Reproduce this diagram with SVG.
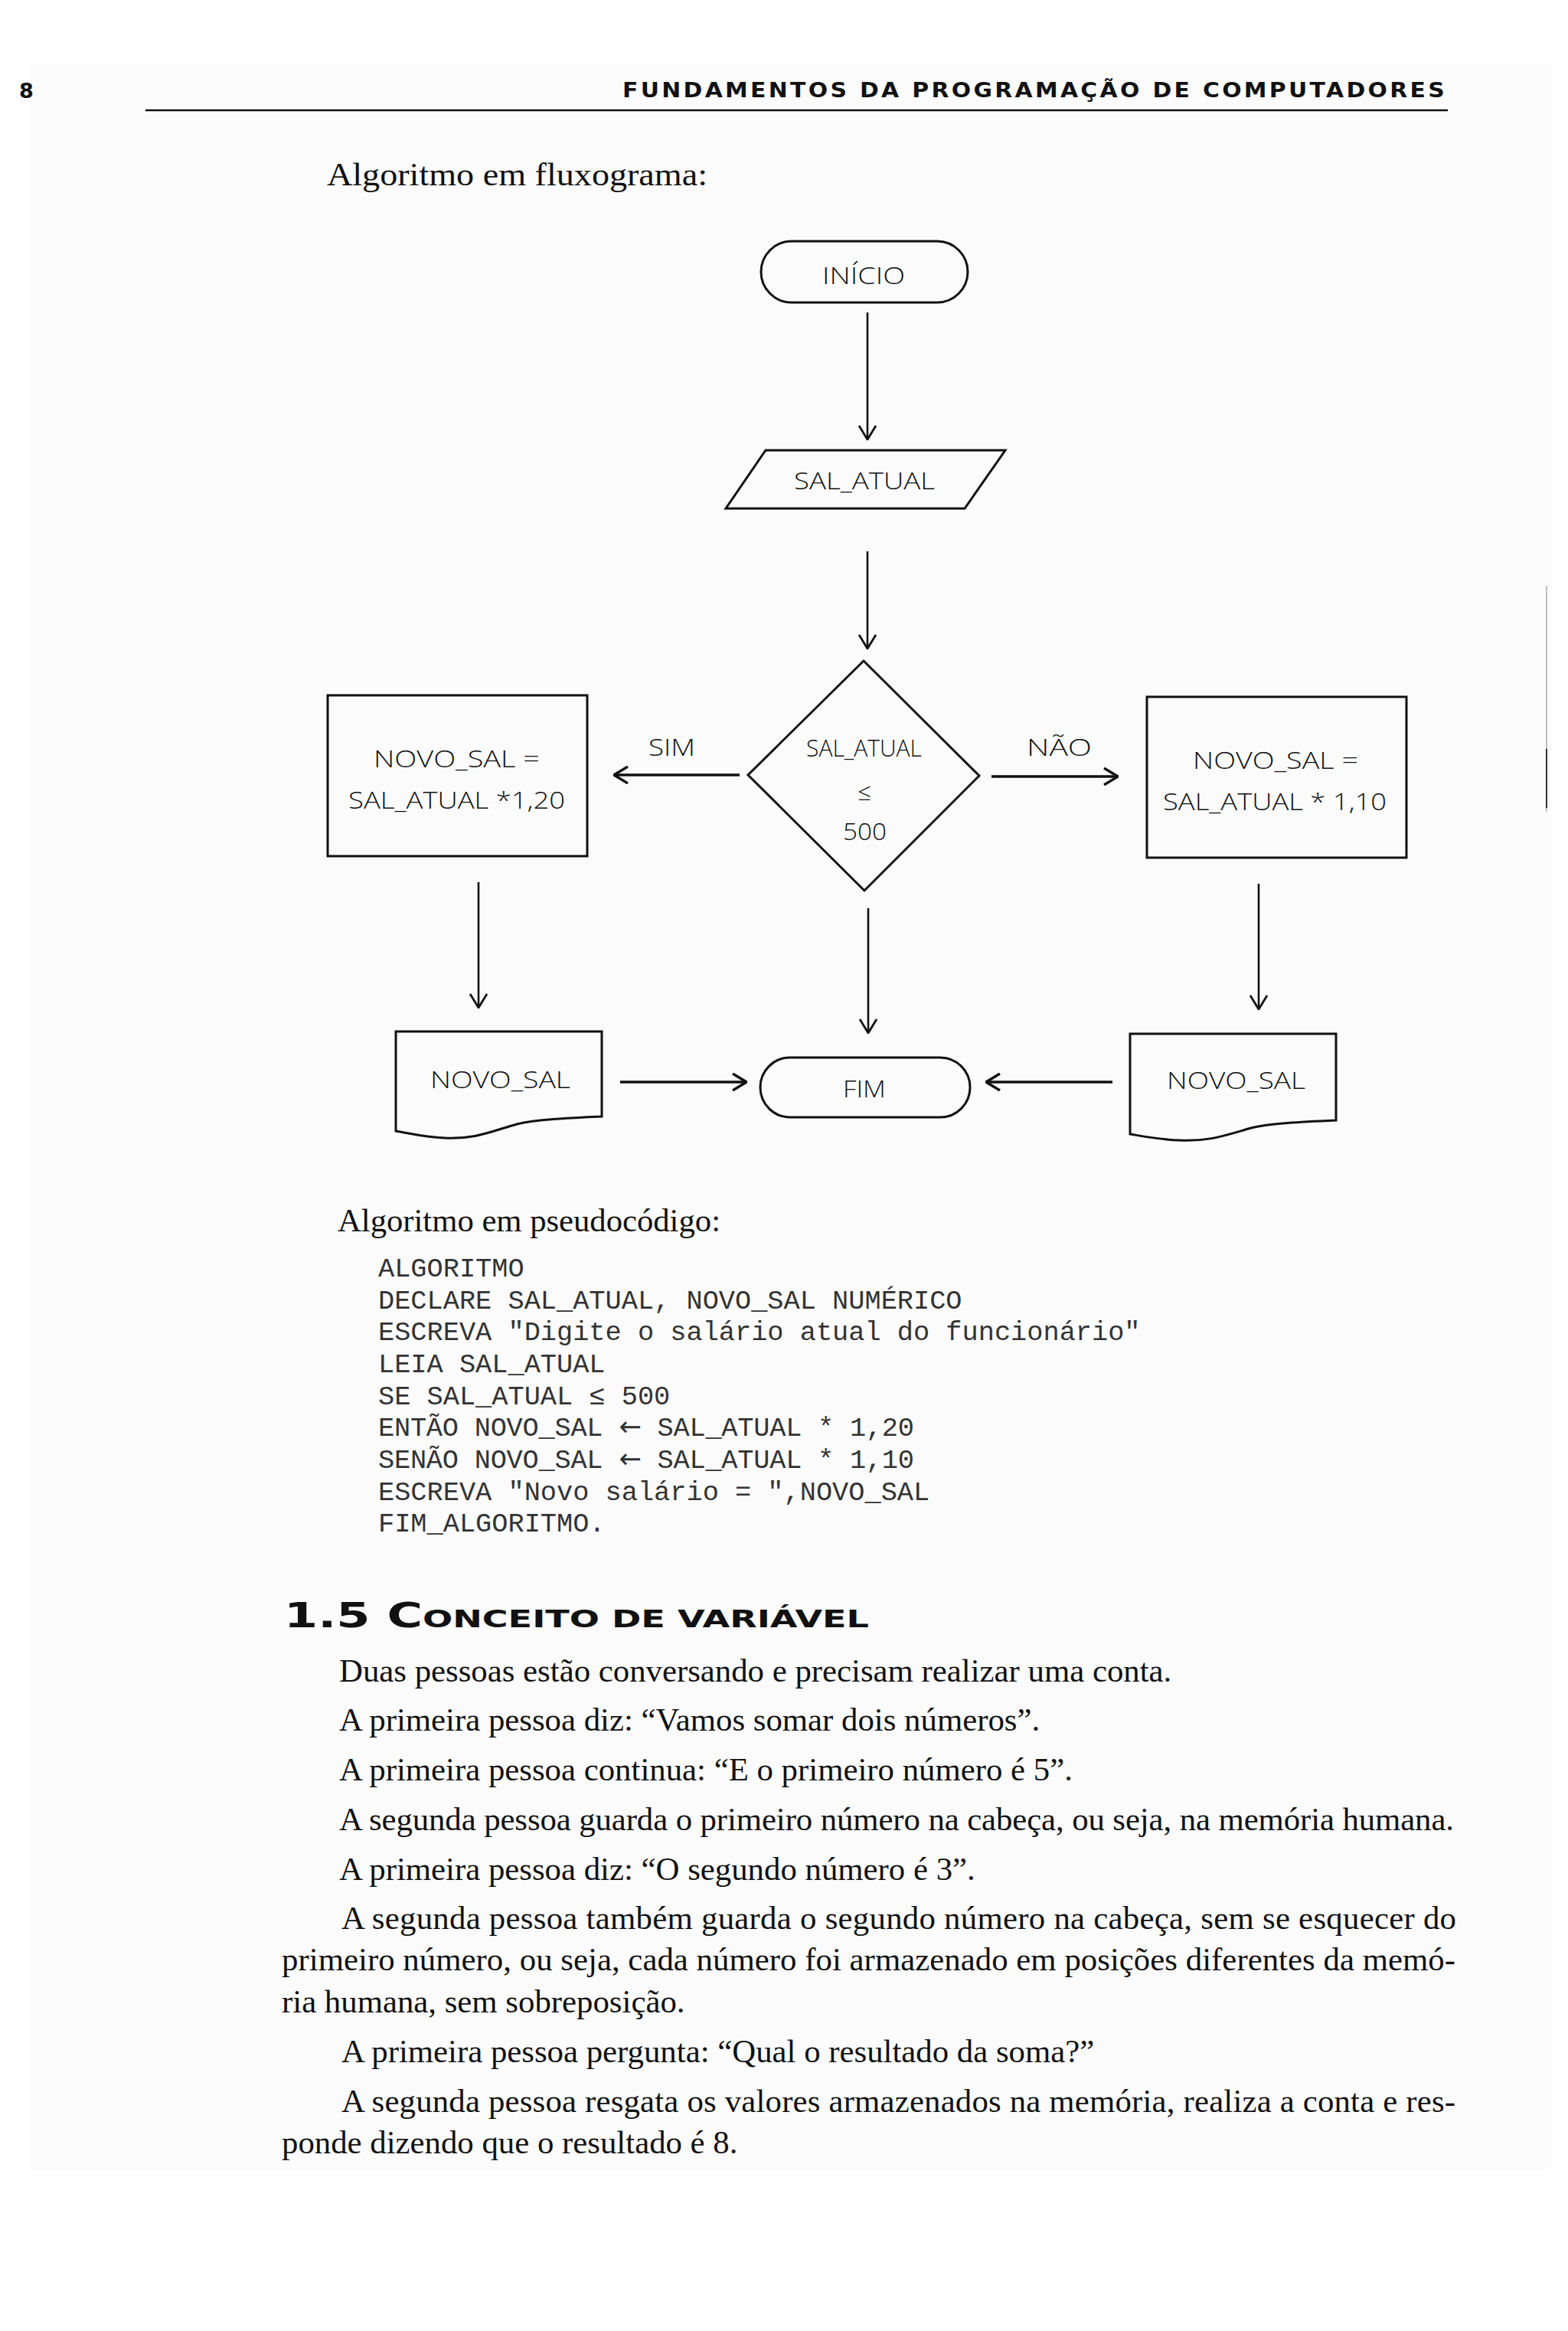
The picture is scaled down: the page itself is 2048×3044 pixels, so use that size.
<svg xmlns="http://www.w3.org/2000/svg" width="2048" height="3044" viewBox="0 0 2048 3044">
<style>
.shape{fill:none;stroke:#111;stroke-width:3;stroke-linejoin:miter}
.conn{fill:none;stroke:#111;stroke-width:2.6;marker-end:url(#arr)}
.connh{fill:none;stroke:#111;stroke-width:3.6;marker-end:url(#arrh)}
.fc{font-family:"Open Sans","Liberation Sans",sans-serif;font-weight:300;font-size:31px;fill:#111}
.serif{font-family:"Liberation Serif","Times New Roman",serif;font-size:42.8px;fill:#111}
.mono{font-family:"Liberation Mono","Courier New",monospace;font-size:35.3px;fill:#333}
.arrow{font-family:"DejaVu Sans",sans-serif}
.hdr{font-family:"DejaVu Sans","Liberation Sans",sans-serif;font-weight:700;font-size:27px;fill:#111}
.h2{font-family:"DejaVu Sans","Liberation Sans",sans-serif;font-weight:700;fill:#111}
</style>
<defs>
<marker id="arr" viewBox="0 0 20 24" refX="19" refY="12" markerWidth="20" markerHeight="24" markerUnits="userSpaceOnUse" orient="auto">
<path d="M1,1 L19,12 L1,23" fill="none" stroke="#111" stroke-width="2.8"/>
</marker>
<marker id="arrh" viewBox="0 0 20 24" refX="19" refY="12" markerWidth="20" markerHeight="24" markerUnits="userSpaceOnUse" orient="auto">
<path d="M1,1 L19,12 L1,23" fill="none" stroke="#111" stroke-width="3.4"/>
</marker>
</defs>
<rect x="0" y="0" width="2048" height="3044" fill="#ffffff"/>
<rect x="40" y="83" width="1986" height="2750" fill="#fbfbfb"/>

<!-- page header -->
<g id="header">
<text class="hdr" x="25" y="128" font-size="34">8</text>
<text class="hdr" x="813" y="127" textLength="1077" lengthAdjust="spacingAndGlyphs" letter-spacing="3">FUNDAMENTOS DA PROGRAMAÇÃO DE COMPUTADORES</text>
<line x1="190" y1="144" x2="1891" y2="144" stroke="#111" stroke-width="2.6"/>
</g>
<line x1="2020" y1="765" x2="2020" y2="1060" stroke="#aaa" stroke-width="1.5"/>
<line x1="2020" y1="978" x2="2020" y2="1055" stroke="#333" stroke-width="2"/>

<text class="serif" x="427" y="242" font-size="45" textLength="497" lengthAdjust="spacingAndGlyphs">Algoritmo em fluxograma:</text>

<!-- flowchart nodes -->
<g id="inicio">
<rect class="shape" x="994" y="315" width="270" height="80" rx="40" ry="40"/>
<text class="fc" x="1074" y="371" textLength="108" lengthAdjust="spacingAndGlyphs">INÍCIO</text>
</g>
<g id="entrada">
<polygon class="shape" points="1000,588 1313,588 1260,664 948,664"/>
<text class="fc" x="1037" y="639" textLength="184" lengthAdjust="spacingAndGlyphs">SAL_ATUAL</text>
</g>
<g id="decisao">
<polygon class="shape" points="1128,863 1279,1013 1129,1163 977,1012"/>
<text class="fc" x="1053" y="988" textLength="151" lengthAdjust="spacingAndGlyphs">SAL_ATUAL</text>
<text class="fc" x="1129" y="1045" font-size="38" text-anchor="middle">≤</text>
<text class="fc" x="1101" y="1097" textLength="57" lengthAdjust="spacingAndGlyphs">500</text>
</g>
<g id="calc_sim">
<rect class="shape" x="428" y="908" width="339" height="210"/>
<text class="fc" x="488" y="1002" textLength="217" lengthAdjust="spacingAndGlyphs">NOVO_SAL =</text>
<text class="fc" x="455" y="1056" textLength="283" lengthAdjust="spacingAndGlyphs">SAL_ATUAL *1,20</text>
</g>
<g id="calc_nao">
<rect class="shape" x="1498" y="910" width="339" height="210"/>
<text class="fc" x="1558" y="1004" textLength="216" lengthAdjust="spacingAndGlyphs">NOVO_SAL =</text>
<text class="fc" x="1519" y="1058" textLength="292" lengthAdjust="spacingAndGlyphs">SAL_ATUAL * 1,10</text>
</g>
<g id="saida_sim">
<path class="shape" d="M517,1347 L786,1347 L786,1458 C740,1460 700,1462 675,1468 C640,1478 620,1488 580,1486 C555,1485 535,1480 517,1477 Z"/>
<text class="fc" x="562" y="1421" textLength="183" lengthAdjust="spacingAndGlyphs">NOVO_SAL</text>
</g>
<g id="saida_nao">
<path class="shape" d="M1476,1350 L1745,1350 L1745,1463 C1699,1465 1659,1467 1634,1473 C1599,1483 1579,1491 1539,1489 C1514,1488 1494,1484 1476,1481 Z"/>
<text class="fc" x="1524" y="1422" textLength="181" lengthAdjust="spacingAndGlyphs">NOVO_SAL</text>
</g>
<g id="fim">
<rect class="shape" x="993" y="1381" width="274" height="78" rx="39" ry="39"/>
<text class="fc" x="1101" y="1433" textLength="56" lengthAdjust="spacingAndGlyphs">FIM</text>
</g>

<!-- connectors -->
<g id="connectors">
<line class="conn" x1="1133" y1="408" x2="1133" y2="574"/>
<line class="conn" x1="1133" y1="720" x2="1133" y2="847"/>
<line class="connh" x1="966" y1="1012" x2="802" y2="1012"/>
<line class="connh" x1="1295" y1="1014" x2="1460" y2="1014"/>
<line class="conn" x1="625" y1="1152" x2="625" y2="1316"/>
<line class="conn" x1="1134" y1="1186" x2="1134" y2="1349"/>
<line class="conn" x1="1644" y1="1154" x2="1644" y2="1318"/>
<line class="connh" x1="810" y1="1413" x2="975" y2="1413"/>
<line class="connh" x1="1453" y1="1413" x2="1288" y2="1413"/>
<text class="fc" x="847" y="987" textLength="61" lengthAdjust="spacingAndGlyphs">SIM</text>
<text class="fc" x="1341" y="987" textLength="85" lengthAdjust="spacingAndGlyphs">NÃO</text>
</g>

<!-- pseudocode -->
<text class="serif" x="441" y="1608" font-size="43" textLength="500" lengthAdjust="spacingAndGlyphs">Algoritmo em pseudocódigo:</text>
<g id="pseudocodigo">
<text class="mono" x="494" y="1667">ALGORITMO</text>
<text class="mono" x="494" y="1709">DECLARE SAL_ATUAL, NOVO_SAL NUMÉRICO</text>
<text class="mono" x="494" y="1750">ESCREVA "Digite o salário atual do funcionário"</text>
<text class="mono" x="494" y="1792">LEIA SAL_ATUAL</text>
<text class="mono" x="494" y="1834">SE SAL_ATUAL ≤ 500</text>
<text class="mono" x="494" y="1875" textLength="700" lengthAdjust="spacing">ENTÃO NOVO_SAL <tspan class="arrow">←</tspan> SAL_ATUAL * 1,20</text>
<text class="mono" x="494" y="1917" textLength="700" lengthAdjust="spacing">SENÃO NOVO_SAL <tspan class="arrow">←</tspan> SAL_ATUAL * 1,10</text>
<text class="mono" x="494" y="1959">ESCREVA "Novo salário = ",NOVO_SAL</text>
<text class="mono" x="494" y="2000">FIM_ALGORITMO.</text>
</g>

<!-- section -->
<text class="h2" x="371" y="2125" textLength="764" lengthAdjust="spacingAndGlyphs"><tspan font-size="44">1.5 C</tspan><tspan font-size="32">ONCEITO DE VARIÁVEL</tspan></text>
<g id="texto">
<text class="serif" x="443" y="2196">Duas pessoas estão conversando e precisam realizar uma conta.</text>
<text class="serif" x="443" y="2260">A primeira pessoa diz: “Vamos somar dois números”.</text>
<text class="serif" x="443" y="2325">A primeira pessoa continua: “E o primeiro número é 5”.</text>
<text class="serif" x="443" y="2390" textLength="1456">A segunda pessoa guarda o primeiro número na cabeça, ou seja, na memória humana.</text>
<text class="serif" x="443" y="2455">A primeira pessoa diz: “O segundo número é 3”.</text>
<text class="serif" x="446" y="2519" textLength="1456">A segunda pessoa também guarda o segundo número na cabeça, sem se esquecer do</text>
<text class="serif" x="368" y="2573" textLength="1533">primeiro número, ou seja, cada número foi armazenado em posições diferentes da memó-</text>
<text class="serif" x="368" y="2628">ria humana, sem sobreposição.</text>
<text class="serif" x="446" y="2693">A primeira pessoa pergunta: “Qual o resultado da soma?”</text>
<text class="serif" x="446" y="2758" textLength="1455">A segunda pessoa resgata os valores armazenados na memória, realiza a conta e res-</text>
<text class="serif" x="368" y="2812">ponde dizendo que o resultado é 8.</text>
</g>
</svg>
